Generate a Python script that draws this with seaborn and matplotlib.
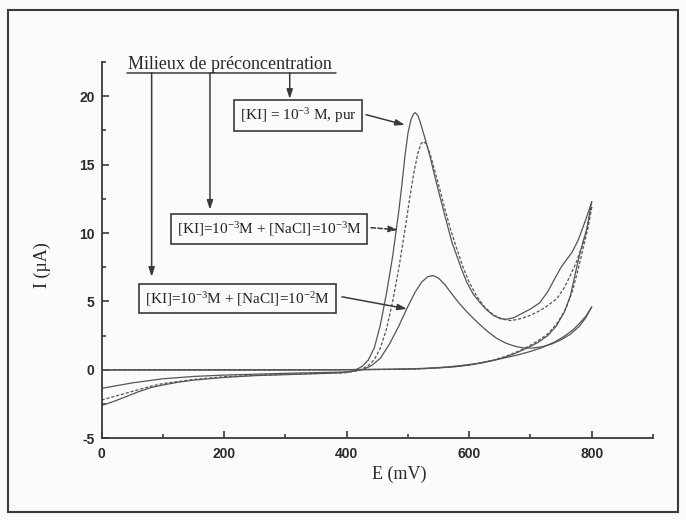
import pandas as pd
import seaborn as sns
import matplotlib.pyplot as plt
from matplotlib.patches import Rectangle

# voltammogrammes : E en mV, I en µA
# [KI] = 1e-3 M pur (trait plein)
E_pur_aller = [0, 20, 40, 60, 80, 100, 125, 150, 200, 250, 300, 350, 390, 410, 425,
               435, 445, 455, 465, 475, 485, 490, 495, 500, 505, 509, 512, 516, 520, 528,
               536, 544, 552, 563, 572, 580, 588, 596, 607, 618, 628, 639, 650, 660, 672,
               685, 700, 715, 728, 740, 750, 758, 768, 778, 788, 795, 800]
I_pur_aller = [-2.6, -2.3, -1.95, -1.6, -1.3, -1.1, -0.9, -0.75, -0.55, -0.42, -0.35, -0.28, -0.22, -0.1, 0.25,
               0.7, 1.6, 3.3, 5.6, 8.3, 11.6, 13.5, 15.6, 17.3, 18.3, 18.7, 18.8, 18.6, 18.1, 16.9,
               15.6, 14.1, 12.7, 10.8, 9.3, 8.3, 7.3, 6.4, 5.5, 4.9, 4.4, 4.0, 3.75, 3.7, 3.8,
               4.1, 4.45, 4.9, 5.7, 6.7, 7.5, 8.0, 8.6, 9.5, 10.7, 11.6, 12.3]
E_pur_retour = [800, 792, 781, 772, 765, 755, 742, 728, 712, 699, 680, 660, 640, 620, 600,
                575, 552, 520, 480, 400, 300, 0]
I_pur_retour = [12.3, 10.3, 8.6, 6.8, 5.4, 4.2, 3.2, 2.5, 2.0, 1.7, 1.3, 0.95, 0.7, 0.5, 0.35,
                0.22, 0.15, 0.08, 0.04, 0.02, 0.0, 0.0]

# [KI] = 1e-3 M + [NaCl] = 1e-3 M (tirets)
E_nacl3_aller = [0, 20, 40, 60, 80, 100, 125, 150, 200, 250, 300, 350, 400, 420, 435,
                 445, 455, 465, 475, 485, 495, 503, 510, 516, 521, 525, 530, 536, 544, 552,
                 560, 570, 580, 590, 600, 612, 625, 640, 655, 668, 680, 695, 710, 725, 743,
                 755, 765, 775, 784, 792, 800]
I_nacl3_aller = [-2.2, -1.95, -1.7, -1.45, -1.2, -1.0, -0.85, -0.7, -0.5, -0.4, -0.32, -0.26, -0.2, -0.05, 0.3,
                 0.75, 1.6, 3.0, 5.0, 7.4, 10.2, 12.6, 14.5, 15.8, 16.5, 16.7, 16.5, 15.8, 14.5, 13.2,
                 11.8, 10.2, 8.8, 7.5, 6.4, 5.4, 4.6, 4.0, 3.7, 3.6, 3.7, 3.9, 4.2, 4.6, 5.2,
                 6.0, 6.9, 7.9, 9.0, 10.3, 11.9]
E_nacl3_retour = [800, 794, 786, 777, 768, 758, 745, 730, 715, 700, 680, 660, 640, 620, 600,
                  575, 550, 520, 480, 400, 300, 0]
I_nacl3_retour = [11.9, 10.4, 8.9, 7.2, 5.7, 4.5, 3.5, 2.7, 2.2, 1.8, 1.35, 1.0, 0.72, 0.52, 0.37,
                  0.24, 0.15, 0.08, 0.04, 0.02, 0.0, 0.0]

# [KI] = 1e-3 M + [NaCl] = 1e-2 M
E_nacl2_aller = [0, 25, 50, 75, 100, 150, 200, 300, 400, 425, 440, 455, 470, 485, 500,
                 512, 522, 532, 541, 550, 560, 570, 582, 595, 607, 620, 633, 645, 660, 675,
                 690, 705, 720, 735, 750, 765, 780, 790, 800]
I_nacl2_aller = [-1.35, -1.15, -0.95, -0.8, -0.65, -0.48, -0.38, -0.25, -0.15, 0.0, 0.3, 0.85, 1.9, 3.2, 4.65,
                 5.7, 6.4, 6.8, 6.9, 6.7, 6.25, 5.65, 4.95, 4.3, 3.75, 3.2, 2.7, 2.3, 1.95, 1.72,
                 1.6, 1.6, 1.7, 1.9, 2.2, 2.6, 3.2, 3.8, 4.6]
E_nacl2_retour = [800, 790, 780, 770, 755, 740, 720, 700, 680, 660, 640, 617, 590, 560, 530,
                  500, 450, 400, 300, 0]
I_nacl2_retour = [4.6, 3.9, 3.4, 2.95, 2.45, 2.05, 1.65, 1.35, 1.1, 0.9, 0.7, 0.5, 0.33, 0.2, 0.12,
                  0.07, 0.03, 0.01, 0.0, 0.0]

titre = "Milieux de préconcentration"
etiquettes = {
    "pur": r"[KI] = 10$^{-3}$ M, pur",
    "nacl3": r"[KI]=10$^{-3}$M + [NaCl]=10$^{-3}$M",
    "nacl2": r"[KI]=10$^{-3}$M + [NaCl]=10$^{-2}$M",
}

traces = [
    ("pur", "aller", E_pur_aller, I_pur_aller),
    ("pur", "retour", E_pur_retour, I_pur_retour),
    ("nacl3", "aller", E_nacl3_aller, I_nacl3_aller),
    ("nacl3", "retour", E_nacl3_retour, I_nacl3_retour),
    ("nacl2", "aller", E_nacl2_aller, I_nacl2_aller),
    ("nacl2", "retour", E_nacl2_retour, I_nacl2_retour),
]
df = pd.concat(
    [pd.DataFrame({"E": E, "I": I, "milieu": m, "trace": m + "_" + s}) for m, s, E, I in traces],
    ignore_index=True,
)

sns.set_style("ticks")
plt.rcParams["font.family"] = ["Liberation Sans", "DejaVu Sans"]
plt.rcParams["mathtext.fontset"] = "custom"
plt.rcParams["mathtext.rm"] = "Liberation Serif"
plt.rcParams["mathtext.it"] = "Liberation Serif:italic"
plt.rcParams["axes.unicode_minus"] = False

ink = "#3a3a3a"
serif = ["Liberation Serif", "DejaVu Serif"]

fig = plt.figure(figsize=(6.86, 5.2), dpi=100, facecolor="#fbfbfc")
ax = fig.add_axes([0.1482, 0.1571, 0.8037, 0.7237])
ax.set_facecolor("#fbfbfc")

sns.lineplot(data=df, x="E", y="I", style="milieu", units="trace", estimator=None, sort=False,
             dashes={"pur": "", "nacl3": (2.5, 1.5), "nacl2": ""}, color="#555555", lw=0.9,
             legend=False, ax=ax)

ax.set_xlim(0, 900)
ax.set_ylim(-5, 22.5)
ax.set_xticks([0, 200, 400, 600, 800])
ax.set_xticks([100, 300, 500, 700, 900], minor=True)
ax.set_yticks([-5, 0, 5, 10, 15, 20])
ax.set_yticks([-2.5, 2.5, 7.5, 12.5, 17.5, 22.5], minor=True)
ax.tick_params(which="both", direction="in", color=ink, width=1.2, labelsize=10, labelcolor="#2a2a2a")
ax.tick_params(which="major", length=5)
ax.tick_params(which="minor", length=3)
ax.tick_params(axis="x", pad=6)
ax.tick_params(axis="y", pad=5)
for lab in ax.get_xticklabels() + ax.get_yticklabels():
    lab.set_fontweight("bold")
sns.despine(ax=ax)
for s in ("left", "bottom"):
    ax.spines[s].set_color(ink)
    ax.spines[s].set_linewidth(1.3)

ax.set_xlabel("E (mV)", family=serif, fontsize=13, color="#2a2a2a")
ax.set_ylabel("I (µA)", family=serif, fontsize=13, color="#2a2a2a")
ax.xaxis.set_label_coords(0.54, -0.072)
ax.yaxis.set_label_coords(-0.092, 0.46)

# titre souligné et flèches verticales
ax.text(43, 22.0, titre, family=serif, fontsize=13, color="#2a2a2a", ha="left", va="baseline", clip_on=False)
ax.plot([42, 383], [21.72, 21.72], color=ink, lw=1.1, clip_on=False)
head = dict(arrowstyle="-|>,head_length=0.55,head_width=0.18", color=ink, lw=1.1, shrinkA=0, shrinkB=0)
for x, y_tip in [(81.6, 6.8), (176.8, 11.7), (307, 19.8)]:
    ax.annotate("", xy=(x, y_tip), xytext=(x, 21.72), arrowprops=head, annotation_clip=False)

box = dict(boxstyle="square,pad=0.38", fc="#fbfbfc", ec=ink, lw=1.2)
ax.text(320.5, 18.6, etiquettes["pur"], family=serif, fontsize=11, ha="center", va="center", bbox=box, color="#222")
ax.text(273.3, 10.3, etiquettes["nacl3"], family=serif, fontsize=11, ha="center", va="center", bbox=box, color="#222")
ax.text(221.7, 5.2, etiquettes["nacl2"], family=serif, fontsize=11, ha="center", va="center", bbox=box, color="#222")

ax.annotate("", xy=(495, 17.9), xytext=(431.5, 18.65), arrowprops=head)
ax.annotate("", xy=(484, 10.24), xytext=(439.7, 10.39), arrowprops=dict(head, linestyle=(0, (3, 1.5))))
ax.annotate("", xy=(498.4, 4.46), xytext=(392.3, 5.34), arrowprops=head)

fig.add_artist(Rectangle((8 / 686, 1 - 512 / 520), 670 / 686, 502 / 520, transform=fig.transFigure,
                         fill=False, ec=ink, lw=1.5))

fig.savefig("out.png", dpi=100, facecolor=fig.get_facecolor())
